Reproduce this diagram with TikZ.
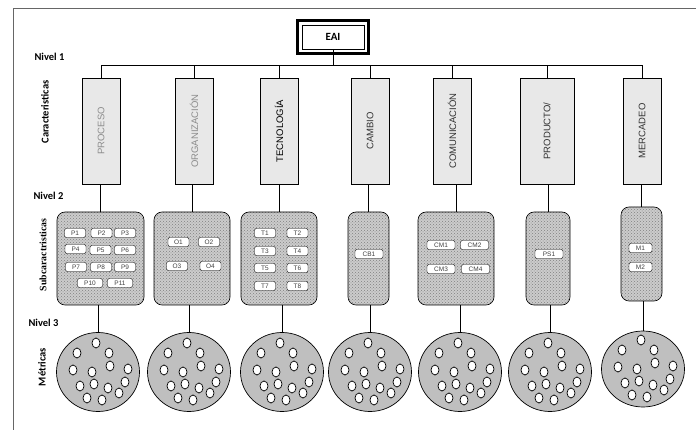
\documentclass[tikz,border=0pt]{standalone}
\usepackage{fontspec}
\setmainfont{Carlito}
\newfontfamily\arialfont{Liberation Sans}
\newfontfamily\timesfont{Liberation Serif}
\usetikzlibrary{shapes.geometric,patterns}

\begin{document}
\begin{tikzpicture}[x=1pt, y=-1pt, thin,
  nivel/.style={anchor=west, font=\bfseries\fontsize{10.5}{12}\selectfont},
  eje/.style={font=\bfseries\fontsize{10.5}{12}\selectfont},
  carac/.style={draw, fill=black!9, minimum width=38pt, minimum height=106pt,
    inner sep=0pt, font=\arialfont\fontsize{9.5}{11}\selectfont},
  subc/.style={draw, line width=0.6pt, rounded corners=8pt, preaction={fill=gray!40},
    pattern=crosshatch dots, pattern color=gray, minimum height=93pt, inner sep=0pt},
  item/.style={draw, fill=white, rounded corners=2pt, minimum width=21pt,
    minimum height=9pt, inner sep=0pt, text=black!75,
    font=\arialfont\fontsize{6.5}{7}\selectfont},
  metrica/.style={ellipse, draw, line width=0.7pt, fill=black!25, minimum width=83pt,
    minimum height=79pt, inner sep=0pt}]
  \useasboundingbox (0,0) rectangle (696,430);

  % marco
  \draw[black!60, line width=0.8pt] (13,430) -- (13,8) -- (696,8);

  % raiz
  \node[draw, line width=0.8pt, minimum width=62pt, minimum height=24pt, inner sep=0pt,
    font=\bfseries\fontsize{11}{12}\selectfont] (eai) at (333,37) {EAI};
  \draw[line width=3pt] ([xshift=-4.5pt,yshift=-4.5pt]eai.south west)
    rectangle ([xshift=4.5pt,yshift=4.5pt]eai.north east);

  % etiquetas de nivel
  \node[nivel] (n1) at (31,57) {Nivel 1};
  \node[nivel] (n2) at (30,196) {Nivel 2};
  \node[nivel] (n3) at (25,323) {Nivel 3};
  \node[eje] (ecar) at (45,112) {\rotatebox{90}{Caracteristicas}};
  \node[eje, font=\timesfont\bfseries\fontsize{9.8}{12}\selectfont] (esub) at (43,255) {\rotatebox{90}{Subcaractristicas}};
  \node[eje] (emet) at (42,367) {\rotatebox{90}{Métricas}};

  % nivel 1: caracteristicas
  \node[carac, text=black!45] (proceso)      at (101,131) {\rotatebox{90}{PROCESO}};
  \node[carac, text=black!45] (organizacion) at (194,131) {\rotatebox{90}{ORGANIZACIÓN}};
  \node[carac]                (tecnologia)   at (279,131) {\rotatebox{90}{TECNOLOGÍA}};
  \node[carac, text=black!80] (cambio)       at (370,131) {\rotatebox{90}{CAMBIO}};
  \node[carac, text=black!80] (comunicacion) at (452,131) {\rotatebox{90}{COMUNICACIÓN}};
  \node[carac, text=black!80, minimum width=54pt] (producto) at (547,131) {\rotatebox{90}{PRODUCTO/}};
  \node[carac, text=black!80] (mercadeo)     at (642,131) {\rotatebox{90}{MERCADEO}};

  \coordinate (bus) at (333,65);
  \draw (eai.south) -- (bus);
  \draw (proceso.north |- bus) -- (mercadeo.north |- bus);
  \draw (proceso.north) -- (proceso.north |- bus);
  \draw (organizacion.north) -- (organizacion.north |- bus);
  \draw (tecnologia.north) -- (tecnologia.north |- bus);
  \draw (cambio.north) -- (cambio.north |- bus);
  \draw (comunicacion.north) -- (comunicacion.north |- bus);
  \draw (producto.north) -- (producto.north |- bus);
  \draw (mercadeo.north) -- (mercadeo.north |- bus);

  % nivel 2: subcaracteristicas
  \node[subc, minimum width=87pt] (sproceso)      at (100.5,258.5) {};
  \node[subc, minimum width=76pt] (sorganizacion) at (192,258.5) {};
  \node[subc, minimum width=76pt] (stecnologia)   at (279,258.5) {};
  \node[subc, minimum width=41pt] (scambio)       at (368.5,258.5) {};
  \node[subc, minimum width=76pt] (scomunicacion) at (456,258.5) {};
  \node[subc, minimum width=44pt] (sproducto)     at (548,258.5) {};
  \node[subc, minimum width=41pt, minimum height=94pt] (smercadeo) at (641.5,254) {};

  \draw (sproceso.north) -- (sproceso.north |- proceso.south);
  \draw (sorganizacion.north) -- (sorganizacion.north |- organizacion.south);
  \draw (stecnologia.north) -- (stecnologia.north |- tecnologia.south);
  \draw (scambio.north) -- (scambio.north |- cambio.south);
  \draw (scomunicacion.north) -- (scomunicacion.north |- comunicacion.south);
  \draw (sproducto.north) -- (sproducto.north |- producto.south);
  \draw (smercadeo.north) -- (smercadeo.north |- mercadeo.south);

  \node[item] (p1)  at (75,233)    {P1};
  \node[item] (p2)  at (101.5,233) {P2};
  \node[item] (p3)  at (125,233)   {P3};
  \node[item] (p4)  at (75.5,249)  {P4};
  \node[item] (p5)  at (100.5,250) {P5};
  \node[item] (p6)  at (125,250)   {P6};
  \node[item] (p7)  at (76,267)    {P7};
  \node[item] (p8)  at (101,267)   {P8};
  \node[item] (p9)  at (125,267)   {P9};
  \node[item, minimum width=25pt] (p10) at (90,283)  {P10};
  \node[item, minimum width=25pt] (p11) at (120,283) {P11};

  \node[item] (o1) at (178.5,242) {O1};
  \node[item] (o2) at (209,242)   {O2};
  \node[item] (o3) at (177,266)   {O3};
  \node[item] (o4) at (210.5,266) {O4};

  \node[item] (t1) at (265,233)   {T1};
  \node[item] (t2) at (297.5,233) {T2};
  \node[item] (t3) at (265,251)   {T3};
  \node[item] (t4) at (297.5,251) {T4};
  \node[item] (t5) at (265,268)   {T5};
  \node[item] (t6) at (297.5,268) {T6};
  \node[item] (t7) at (265,286)   {T7};
  \node[item] (t8) at (297.5,286) {T8};

  \node[item, minimum width=28pt] (cb1) at (369,254) {CB1};

  \node[item, minimum width=28pt] (cm1) at (441,245)   {CM1};
  \node[item, minimum width=28pt] (cm2) at (474.5,245) {CM2};
  \node[item, minimum width=28pt] (cm3) at (441,269)   {CM3};
  \node[item, minimum width=28pt] (cm4) at (475.5,269) {CM4};

  \node[item, minimum width=28pt] (ps1) at (549,254) {PS1};

  \node[item, minimum width=23pt] (m1) at (640.5,248) {M1};
  \node[item, minimum width=23pt] (m2) at (640.5,267) {M2};

  % nivel 3: metricas
  \node[metrica] (mproceso)      at (98,372)  {};
  \node[metrica] (morganizacion) at (189,372) {};
  \node[metrica] (mtecnologia)   at (282,372) {};
  \node[metrica] (mcambio)       at (370,372) {};
  \node[metrica] (mcomunicacion) at (460,372) {};
  \node[metrica] (mproducto)     at (550,372) {};
  \node[metrica, minimum height=76pt] (mmercadeo) at (643,369) {};

  \draw (mproceso.north) -- (mproceso.north |- sproceso.south);
  \draw (morganizacion.north) -- (morganizacion.north |- sorganizacion.south);
  \draw (mtecnologia.north) -- (mtecnologia.north |- stecnologia.south);
  \draw (mcambio.north) -- (mcambio.north |- scambio.south);
  \draw (mcomunicacion.north) -- (mcomunicacion.north |- scomunicacion.south);
  \draw (mproducto.north) -- (mproducto.north |- sproducto.south);
  \draw (mmercadeo.north) -- (mmercadeo.north |- smercadeo.south);

  % puntos de cada metrica
  \foreach \m in {mproceso,morganizacion,mtecnologia,mcambio,mcomunicacion,mproducto,mmercadeo}
    \foreach \dx/\dy in {-2/-29,-21/-19,11/-19,-25/-2,-6/0,12/-6,30/-3,
                         -18/14,-4/12,10/16,27/10,21/21,-11/26,4/28}
      \draw[fill=white, line width=0.7pt] ([shift={(\dx,\dy)}]\m.center) ellipse [x radius=4pt, y radius=5pt];
\end{tikzpicture}
\end{document}
